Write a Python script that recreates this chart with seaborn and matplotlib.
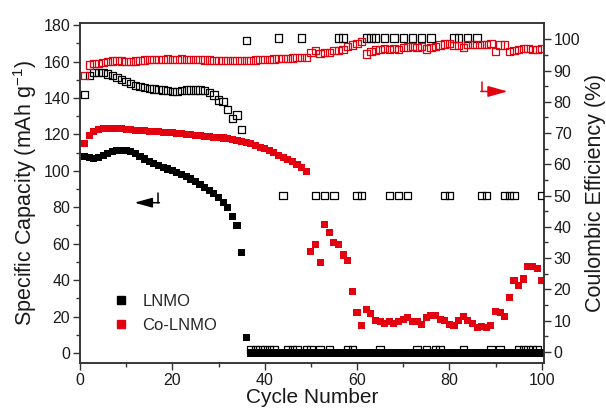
import numpy as np
import pandas as pd
import matplotlib
matplotlib.use("Agg")
import matplotlib.pyplot as plt
import seaborn as sns
from matplotlib.lines import Line2D

# ---------------- data ----------------
cycles = list(range(1, 101))

lnmo_capacity = [
    108, 107.5, 107, 107.5, 108.5, 109.5, 110.5, 111, 111, 111,
    110.5, 109.5, 108, 106.5, 105, 104, 103, 102, 101, 100,
    99, 98, 97, 95.5, 94, 92.5, 91, 89, 87.5, 85.5,
    82.5, 80, 75, 70, 55, 8.5, 0, 0, 0, 0,
    0, 0, 0, 0, 0, 0, 0, 0, 0, 0,
    0, 0, 0, 0, 0, 0, 0, 0, 0, 0,
    0, 0, 0, 0, 0, 0, 0, 0, 0, 0,
    0, 0, 0, 0, 0, 0, 0, 0, 0, 0,
    0, 0, 0, 0, 0, 0, 0, 0, 0, 0,
    0, 0, 0, 0, 0, 0, 0, 0, 0, 0,
]

co_lnmo_capacity = [
    115, 119.5, 121.5, 122.5, 123, 123, 123, 123, 123, 122.5,
    122.5, 122, 122, 122, 121.5, 121.5, 121.5, 121, 121, 121,
    120.5, 120.5, 120, 120, 119.5, 119.5, 119, 119, 118.5, 118.5,
    118, 117.5, 117, 116.5, 116, 115.5, 115, 114, 113, 112,
    111, 110, 108.5, 107.5, 106, 105, 103.5, 102, 99.5, 55.6,
    59.3, 49.6, 70.3, 66.2, 60.5, 59.6, 53.8, 51, 33.6, 22.1,
    15, 24.1, 21.8, 17.7, 17.2, 16.4, 17.2, 16.4, 17.2, 18.4,
    19.4, 17.2, 17.2, 15.6, 19.6, 20.7, 20.7, 18.4, 18, 15.8,
    15, 17.8, 20, 18, 16, 14.2, 14.6, 14.2, 15, 23,
    22, 20, 30.5, 39.7, 36.8, 40.6, 47.7, 47.4, 46.5, 40,
]

co_lnmo_ce = [
    88.3, 91.8, 92.2, 92.3, 92.5, 92.8, 93, 93.3, 93, 92.8,
    92.8, 93, 93.2, 93.4, 93.5, 93.6, 93.6, 93.6, 93.7, 93.6,
    93.6, 93.7, 93.6, 93.6, 93.5, 93.5, 93.4, 93.4, 93.3, 93.3,
    93.3, 93.2, 93.3, 93.3, 93.2, 93.3, 93.3, 93.4, 93.5, 93.6,
    93.6, 93.7, 93.8, 93.8, 93.9, 94, 94.1, 94.2, 94.2, 95.7,
    96.3, 95.5, 95.8, 95.8, 96.3, 96.3, 96.8, 97.6, 98.2, 98.7,
    99.2, 95.3, 96, 96.6, 96.8, 97, 96.8, 97, 96.8, 97.3,
    97.5, 97.6, 97.3, 97.6, 96.9, 97.3, 97.6, 98.2, 98.5, 98.7,
    98, 98, 97.3, 98.4, 98.4, 98.4, 98.4, 98.4, 98.7, 96,
    98.2, 98.2, 96, 96.5, 96.8, 97, 97, 96.8, 96.8, 97,
]

# LNMO coulombic efficiency: listed as (cycle, value) because it scatters after failure
lnmo_ce_cycles = [
    1, 2, 3, 4, 5, 6, 7, 8, 9, 10,
    11, 12, 13, 14, 15, 16, 17, 18, 19, 20,
    21, 22, 23, 24, 25, 26, 27, 28, 29, 30,
    31, 32, 33, 34, 35,
    36, 43, 48, 56, 57, 62, 63, 64, 66, 68, 70, 72, 74, 76, 81, 82, 84, 86,
    44, 51, 53, 55, 60, 61, 67, 69, 71, 79, 80, 87, 88, 92, 93, 94, 100,
    37, 38, 39, 40, 41, 42, 45, 46, 47, 49, 50, 52, 54, 58, 59, 65, 73, 75,
    77, 78, 83, 89, 91, 95, 96, 97, 98, 99,
]
lnmo_ce_values = [
    82.4, 88.3, 89.3, 89.3, 89.3, 88.9, 88.5, 87.8, 87.2, 86.5,
    85.9, 85.2, 84.8, 84.5, 84.3, 84.1, 84, 83.8, 83.5, 83.3,
    83.3, 83.6, 83.8, 83.8, 83.8, 83.8, 83.6, 82.9, 82.2, 80.6,
    80, 77.6, 74.7, 75.8, 71.2,
    99.6, 100.4, 100.4, 100.4, 100.4, 100.4, 100.4, 100.4, 100.4, 100.4, 100.4,
    100.4, 100.4, 100.4, 100.4, 100.4, 100.4, 100.4,
    50, 50, 50, 50, 50, 50, 50, 50, 50, 50, 50, 50, 50, 50, 50, 50, 50,
    0.8, 0.8, 0.8, 0.8, 0.8, 0.8, 0.8, 0.8, 0.8, 0.8, 0.8, 0.8, 0.8, 0.8,
    0.8, 0.8, 0.8, 0.8, 0.8, 0.8, 0.8, 0.8, 0.8, 0.8, 0.8, 0.8, 0.8, 0.8,
]

labels = ["LNMO", "Co-LNMO"]

# ---------------- style ----------------
sns.set_theme(style="ticks")
plt.rcParams["font.family"] = ["Liberation Sans", "DejaVu Sans"]
plt.rcParams["mathtext.fontset"] = "custom"
plt.rcParams["mathtext.rm"] = "Liberation Sans"
plt.rcParams["mathtext.it"] = "Liberation Sans:italic"

RED = "#e3000f"
BLACK = "#000000"
AXC = "#333333"

cap_df = pd.DataFrame({
    "cycle": cycles * 2,
    "capacity": lnmo_capacity + co_lnmo_capacity,
    "sample": [labels[0]] * len(cycles) + [labels[1]] * len(cycles),
})
ce_lnmo_df = pd.DataFrame({"cycle": lnmo_ce_cycles, "ce": lnmo_ce_values})
ce_co_df = pd.DataFrame({"cycle": cycles, "ce": co_lnmo_ce})

fig = plt.figure(figsize=(6.06, 4.15), dpi=100)
ax = fig.add_axes([0.132, 0.1253, 0.7657, 0.8200])
ax2 = ax.twinx()

sns.scatterplot(data=cap_df, x="cycle", y="capacity", hue="sample",
                palette={labels[0]: BLACK, labels[1]: RED},
                marker="s", s=26, linewidth=0, ax=ax, legend=False, zorder=3)

sns.scatterplot(data=ce_lnmo_df, x="cycle", y="ce", marker="s", s=28,
                color=BLACK, facecolors="none", edgecolor=BLACK,
                linewidth=0.9, ax=ax2, zorder=3)
sns.scatterplot(data=ce_co_df, x="cycle", y="ce", marker="s", s=28,
                color=RED, facecolors="none", edgecolor=RED,
                linewidth=0.9, ax=ax2, zorder=3)

# axes limits and ticks
ax.set_xlim(0, 100.5)
ax.set_ylim(-5.5, 181.3)
ax2.set_ylim(-3.6, 105.3)
ax.set_xticks([0, 20, 40, 60, 80, 100])
ax.set_xticks(np.arange(10, 100, 20), minor=True)
ax.set_yticks([0, 20, 40, 60, 80, 100, 120, 140, 160, 180])
ax.set_yticks(np.arange(10, 180, 20), minor=True)
ax2.set_yticks([0, 10, 20, 30, 40, 50, 60, 70, 80, 90, 100])
ax2.set_yticks(np.arange(5, 105, 10), minor=True)

for a in (ax, ax2):
    a.tick_params(which="major", direction="out", length=5, width=1,
                  labelsize=11.5, colors=AXC, labelcolor="#1a1a1a", pad=2)
    a.tick_params(which="minor", direction="out", length=3, width=1,
                  colors=AXC)
    for sp in a.spines.values():
        sp.set_linewidth(1.1)
        sp.set_color(AXC)
ax.tick_params(axis="y", which="both", right=False)
ax2.tick_params(axis="y", which="both", left=False)

ax.set_xlabel("Cycle Number", fontsize=15, labelpad=0, color="#1a1a1a")
ax.set_ylabel("Specific Capacity (mAh g$^{-1}$)", fontsize=15.5, labelpad=3,
              color="#1a1a1a")
ax2.set_ylabel("Coulombic Efficiency (%)", fontsize=15.5, labelpad=3,
               color="#1a1a1a")
ax2.set_xlabel("")

# legend (filled squares only)
handles = [Line2D([], [], marker="s", linestyle="none", color=BLACK, markersize=6),
           Line2D([], [], marker="s", linestyle="none", color=RED, markersize=6)]
ax.legend(handles, labels, loc="lower left", bbox_to_anchor=(0.055, 0.07),
          frameon=False, fontsize=12, handletextpad=0.8, labelspacing=0.5,
          handlelength=1.0, borderaxespad=0)

# direction arrows
ax.plot([17, 17], [87.8, 82.5], color=BLACK, lw=1.1, zorder=4)
ax.annotate("", xy=(11.8, 82.5), xytext=(17.2, 82.5),
            arrowprops=dict(arrowstyle="-|>,head_length=0.9,head_width=0.25",
                            color=BLACK, lw=1.1, shrinkA=0, shrinkB=0))
ax2.plot([87, 87], [86.3, 83.3], color=RED, lw=1.1, zorder=4)
ax2.annotate("", xy=(92.6, 83.3), xytext=(86.8, 83.3),
             arrowprops=dict(arrowstyle="-|>,head_length=1.0,head_width=0.28",
                             color=RED, lw=1.1, shrinkA=0, shrinkB=0))

fig.savefig("out.png", dpi=100)
